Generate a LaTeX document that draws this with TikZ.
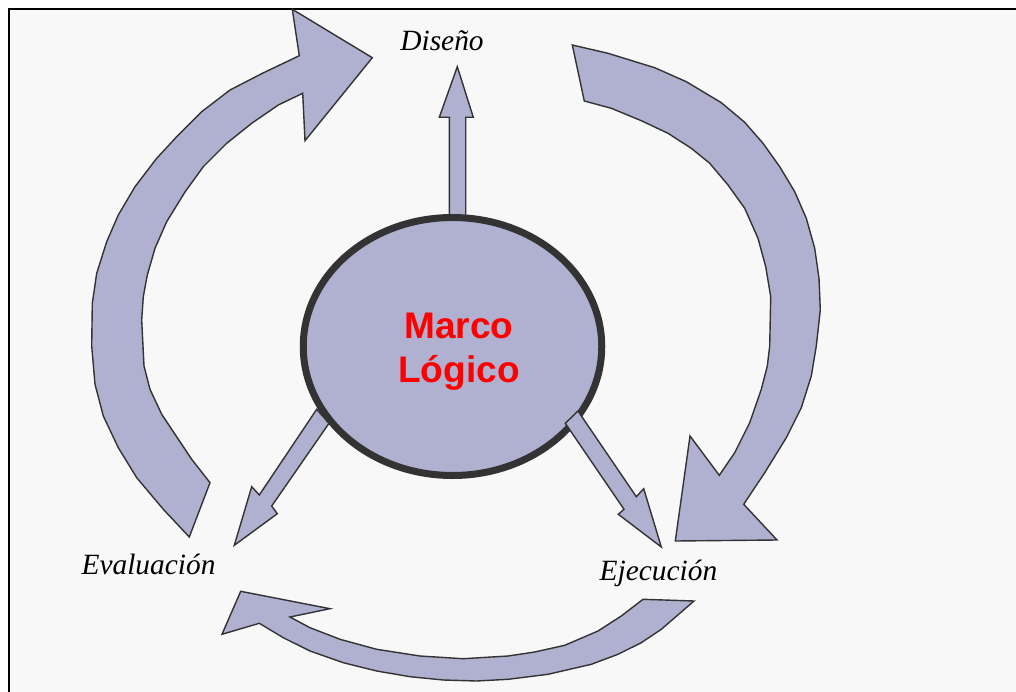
\documentclass[tikz,border=0pt]{standalone}
\usetikzlibrary{shapes.geometric}
\usepackage{fontspec}
\setmainfont{Liberation Serif}
\newfontfamily\labelsans{Liberation Sans}
\definecolor{pagebg}{HTML}{F8F8F8}
\definecolor{blockfill}{HTML}{B0B0D0}
\definecolor{blockline}{HTML}{333333}
\tikzset{
  blockarrow/.style={draw=blockline,fill=blockfill,line width=1.4pt,line join=miter,miter limit=8},
  corecircle/.style={draw=blockline,fill=blockfill,line width=7pt,ellipse,minimum width=298.5pt,minimum height=258pt,inner sep=0pt,outer sep=0pt},
  stagelabel/.style={font=\fontsize{29.4}{32}\selectfont\itshape,text=black,inner sep=0pt,anchor=center},
  corelabel/.style={font=\labelsans\bfseries\fontsize{37}{44}\selectfont,text=red,align=center,inner sep=0pt}
}
\begin{document}
\begin{tikzpicture}[x=1pt,y=-1pt]
\useasboundingbox (0,0) rectangle (1016,692);
\fill[white] (0,0) rectangle (1016,692);
\fill[pagebg] (8.5,9) rectangle (1016,692);
\draw[black,line width=2pt] (8.5,692) -- (8.5,9) -- (1016,9);

% thin radial arrows behind the circle
\draw[blockarrow] (457.3,66.7) -- (473.3,117.3) -- (465.7,117.3) -- (465.7,222) -- (449.3,222) -- (449.3,117.3) -- (439.3,117.3) -- cycle;
\draw[blockarrow] (316.7,409.3) -- (329,423.3) -- (271.7,506) -- (277.3,513.7) -- (234.3,545.3) -- (251.7,486.7) -- (259.3,495) -- cycle;

% central circle
\node[corecircle] (core) at (452.5,346.5) {};
\node[corelabel] (title) at (459,352) {Marco\\Lógico};

% radial arrow over the circle
\draw[blockarrow] (565.3,423.3) -- (578,411) -- (636.3,496.7) -- (643.7,488.7) -- (661.3,547) -- (618.3,514.3) -- (624,509.3) -- cycle;

% large cycle arrows
\draw[blockarrow] (372.3,57.7) -- (292.3,9.3) -- (299.3,55.7) -- (263,73) -- (230,90) -- (201.7,111.7) -- (176.7,136.7) -- (156.7,158.3) -- (135,186.7) -- (118.3,215) -- (106.7,241.7) -- (96.7,273.3) -- (92.3,303.3) -- (91.7,346) -- (95,384.3) -- (103.3,416) -- (118.3,447.7) -- (136.7,477.7) -- (163.3,509.3) -- (189.3,537) -- (210,482.7) -- (191.7,459.3) -- (161.7,414.3) -- (150,389.3) -- (144,366) -- (141.7,320) -- (143.3,296.7) -- (147.3,275) -- (155,248.3) -- (166.7,221.7) -- (185,192) -- (203.3,166.7) -- (226.7,143.3) -- (251.7,123.3) -- (278.3,105) -- (302.7,93.3) -- (305,140.7) -- cycle;

\draw[blockarrow] (572.3,45) -- (608,53.3) -- (654.7,67.7) -- (686.3,81.7) -- (721.3,102.7) -- (744.7,122.3) -- (763,143.3) -- (779.7,166.7) -- (794.7,191.7) -- (806.3,218.3) -- (814.7,248.3) -- (819,278.3) -- (820.3,310) -- (816.3,346) -- (811.3,376) -- (801.3,407.7) -- (786.3,437.7) -- (764.7,472.7) -- (743.7,504.3) -- (777,540) -- (675.3,541) -- (690,436) -- (719.3,475.3) -- (734.7,452.7) -- (749.7,422.7) -- (761.3,389.3) -- (767.3,366) -- (769.7,346) -- (770.7,296.7) -- (765.7,266.7) -- (758,238.3) -- (744.7,208.3) -- (728,185) -- (709.7,163.3) -- (691.3,148.3) -- (668,133.3) -- (641.3,120.7) -- (611.3,108.3) -- (584.3,101) -- cycle;

\draw[blockarrow] (694,601) -- (643,599.3) -- (621.3,616) -- (598,631) -- (564.7,645.3) -- (534.7,652) -- (508,656) -- (463.3,658.7) -- (420,656) -- (376.7,649.3) -- (340,639.3) -- (310,627.7) -- (290,617) -- (330,608.7) -- (240.7,591.3) -- (222,634.3) -- (259.3,623.3) -- (283.3,637.7) -- (310,651) -- (343.3,662.7) -- (376.7,671) -- (410,676.7) -- (443.3,680) -- (476.7,681) -- (508,679.3) -- (548,674.3) -- (591.3,664.3) -- (618,654.3) -- (641.3,642.7) -- (661.3,629.3) -- cycle;

% stage labels
\node[stagelabel] (design) at (442,41) {Diseño};
\node[stagelabel] (evaluation) at (148.5,564) {Evaluación};
\node[stagelabel] (execution) at (658.5,573) {Ejecución};
\end{tikzpicture}
\end{document}
